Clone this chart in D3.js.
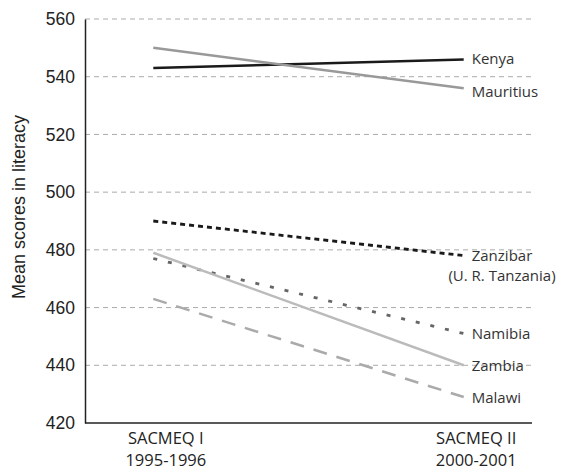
<!DOCTYPE html>
<html><head><meta charset="utf-8">
<script src="https://cdn.jsdelivr.net/npm/d3@7"></script>
<style>body{margin:0;background:#fff}svg{display:block}</style>
</head><body>
<svg id="c" width="561" height="470"></svg>
<script>
const categories = ["SACMEQ I", "SACMEQ II"];
const periods = ["1995-1996", "2000-2001"];
const countries = ["Kenya", "Mauritius", "Zanzibar", "Namibia", "Zambia", "Malawi"];
const sacmeq1 = [543, 550, 490, 477, 479, 463];
const sacmeq2 = [546, 536, 478, 451, 440, 429];
const yTicks = [420, 440, 460, 480, 500, 520, 540, 560];

(function() {
const styles = {
  Kenya:     {color: "#1a1a1a", dash: null,   w: 2.5, dy: 0},
  Mauritius: {color: "#999999", dash: null,   w: 2.5, dy: 4},
  Zanzibar:  {color: "#1a1a1a", dash: "5,4",  w: 2.8, dy: 0},
  Namibia:   {color: "#666666", dash: "4,11", w: 2.8, dy: 0},
  Zambia:    {color: "#bbbbbb", dash: null,   w: 2.5, dy: 1},
  Malawi:    {color: "#aaaaaa", dash: "14,10", w: 2.5, dy: 1}
};
const labelFont = "'Open Sans', sans-serif";

const svg = d3.select("#c");
const mLeft = 85, mRight = 532, mTop = 19, mBottom = 423;
const y = d3.scaleLinear().domain([420, 560]).range([mBottom, mTop]);
const x = d3.scalePoint().domain(categories).range([mLeft, mRight]).padding(0.22);

// grid
svg.append("g").selectAll("line").data(yTicks.filter(t => t !== 420)).join("line")
  .attr("x1", mLeft).attr("x2", mRight)
  .attr("y1", d => y(d)).attr("y2", d => y(d))
  .attr("stroke", "#aaa").attr("stroke-width", 1).attr("stroke-dasharray", "5,4");

// y axis
const ya = svg.append("g").attr("transform", `translate(${mLeft},0)`)
  .call(d3.axisLeft(y).tickValues(yTicks).tickSize(0).tickPadding(10));
ya.select(".domain").attr("stroke", "#222").attr("stroke-width", 1.5);
ya.selectAll("text").attr("font-family", "'Liberation Sans', Arial, sans-serif")
  .attr("font-size", 17.5).attr("fill", "#222");

// x axis
const xa = svg.append("g").attr("transform", `translate(0,${mBottom})`)
  .call(d3.axisBottom(x).tickSize(0).tickFormat(() => ""));
xa.select(".domain").attr("stroke", "#222").attr("stroke-width", 1.5)
  .attr("d", `M${mLeft},0H${mRight}`);
xa.selectAll(".tick").each(function(d, i) {
  const g = d3.select(this);
  g.select("text").remove();
  g.append("text").attr("text-anchor", "middle").attr("x", 12).attr("y", 21)
    .attr("font-family", labelFont).attr("font-size", 16.5).attr("fill", "#222")
    .text(categories[i]);
  g.append("text").attr("text-anchor", "middle").attr("x", 12).attr("y", 43)
    .attr("font-family", labelFont).attr("font-size", 16.5).attr("fill", "#222")
    .text(periods[i]);
});

// y title
svg.append("text").attr("transform", `translate(25,207) rotate(-90)`)
  .attr("text-anchor", "middle").attr("font-family", "'Liberation Sans', Arial, sans-serif")
  .attr("font-size", 18).attr("fill", "#222").text("Mean scores in literacy");

// lines
const x0 = x(categories[0]), x1 = x(categories[1]);
const line = d3.line().x(d => d[0]).y(d => y(d[1]));
countries.forEach((c, i) => {
  const s = styles[c];
  svg.append("path")
    .attr("d", line([[x0, sacmeq1[i]], [x1, sacmeq2[i]]]))
    .attr("fill", "none").attr("stroke", s.color).attr("stroke-width", s.w)
    .attr("stroke-dasharray", s.dash);
  const lx = x1 + 8, ly = y(sacmeq2[i]) + s.dy + 5;
  const t = svg.append("text").attr("font-family", labelFont).attr("font-size", 15)
    .attr("fill", "#333");
  if (c === "Zanzibar") {
    const a = t.append("tspan").attr("x", lx).attr("y", ly).text("Zanzibar");
    const w = a.node().getComputedTextLength();
    t.append("tspan").attr("x", lx + w / 2).attr("y", ly + 20).attr("text-anchor", "middle").text("(U. R. Tanzania)");
  } else {
    t.attr("x", lx).attr("y", ly).text(c);
  }
});
})();
</script>
</body></html>
